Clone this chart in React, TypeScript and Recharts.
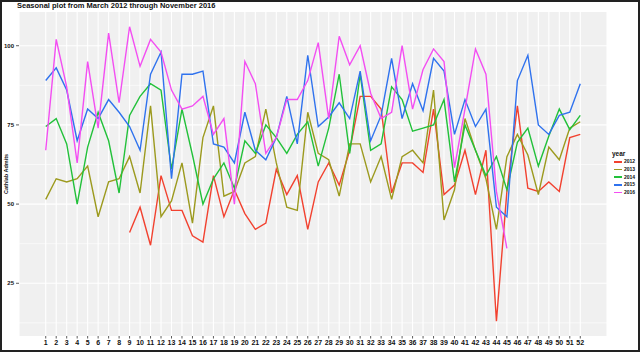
import React from 'react';
import { LineChart, Line, XAxis, YAxis, CartesianGrid, Legend } from 'recharts';

const weeks = [
  1, 2, 3, 4, 5, 6, 7, 8, 9, 10, 11, 12, 13, 14, 15, 16, 17, 18, 19, 20, 21, 22, 23, 24, 25, 26,
  27, 28, 29, 30, 31, 32, 33, 34, 35, 36, 37, 38, 39, 40, 41, 42, 43, 44, 45, 46, 47, 48, 49, 50, 51, 52,
];

const y2012 = [
  null, null, null, null, null, null, null, null, 41, 49, 37, 59, 48, 48, 40, 38, 59, 46, 54.5, 47, 42, 44, 61, 53, 59, 42,
  57, 63, 56, 67, 84, 84, 80, 53.5, 63, 63, 60, 80, 53, 56, 67, 53, 67, 13, 54, 81, 55, 54, 57, 54, 71, 72,
];
const y2013 = [
  51.5, 58, 57, 58, 62, 46, 57, 58, 65, 53.5, 81, 46, 51, 63, 44, 71, 81, 52.5, 54, 63, 65, 80, 63, 49, 48, 79,
  66, 64, 52.5, 69, 69, 57, 65, 51.5, 65, 67, 63, 86, 45, 54.5, 77, 67, 58, 42, 65, 72, 65.5, 53, 68, 64, 74, 76,
];
const y2014 = [
  74.5, 77, 69, 50, 68, 79, 70, 53.5, 78, 84, 88, 86, 61, 80, 65.5, 50, 58, 63, 55, 70, 66, 75, 71, 66, 72, 76,
  62, 74, 91, 66, 91, 67, 69, 87, 83, 73, 74, 75, 83, 57, 75, 67, 59, 65, 54.5, 69.5, 74, 62, 71.5, 80, 73.5, 78,
];
const y2015 = [
  89, 93, 86, 70, 80, 77, 83, 79, 74.5, 67, 91, 98, 58, 91, 91, 92, 69, 68, 63, 79, 67, 64, 71, 84, 69, 97,
  74.5, 77.5, 82, 77, 92, 70, 78, 96, 77, 88, 79.5, 96, 92, 72, 83, 74.5, 80, 49, 46, 89, 97, 75, 72, 78, 79, 88,
];
const y2016 = [
  67, 102, 87, 63, 95, 74, 104, 82, 106, 93.5, 102, 98, 86, 80, 81, 84, 72, 77, 50, 95, 88, 66, 71, 83, 83, 89,
  101, 77, 103, 94, 100, 85, 77, 79, 100, 80, 92.5, 99, 95, 61.5, 80, 99, 91, 54, 36,
];

const years = ['2012', '2013', '2014', '2015', '2016'];
const yearColors = ['#F2412F', '#9C9A1E', '#22C13A', '#2F72EE', '#F34EF2'];
const yTicks = [25, 50, 75, 100];
const yMinor = [12.5, 37.5, 62.5, 87.5];
const titleText = 'Seasonal plot from March 2012 through November 2016';
const yTitle = 'Cathlab Admits';

const series = [y2012, y2013, y2014, y2015, y2016];
const data = weeks.map((w, i) => {
  const row: Record<string, number | null> = { week: w };
  years.forEach((yr, k) => {
    const v = series[k][i];
    row[yr] = v === undefined ? null : v;
  });
  return row;
});

const FONT = '"Liberation Sans", Arial, sans-serif';

const renderLegend = (props: any) => {
  const payload = props.payload || [];
  return (
    <div style={{ fontFamily: FONT, color: '#111', textAlign: 'left' }}>
      <div style={{ fontSize: 6.5, fontWeight: 'bold', lineHeight: '9px', height: 9 }}>year</div>
      {payload.map((entry: any) => (
        <div key={entry.value} style={{ display: 'flex', alignItems: 'center', height: 7.7 }}>
          <span
            style={{
              display: 'inline-block',
              width: 8,
              height: 1.5,
              background: entry.color,
              marginLeft: 1.5,
              marginRight: 2.5,
            }}
          />
          <span style={{ fontSize: 5, fontWeight: 'bold', lineHeight: '7px' }}>{entry.value}</span>
        </div>
      ))}
    </div>
  );
};

export default function App() {
  return (
    <div style={{ position: 'absolute', left: 0, top: 0, width: 640, height: 352, background: '#fff' }}>
      <LineChart
        width={640}
        height={352}
        data={data}
        margin={{ top: 12, right: 33, bottom: 0, left: 0 }}
      >
        <CartesianGrid
          fill="#F0F0F0"
          stroke="#FFFFFF"
          strokeWidth={0.6}
          vertical={false}
          horizontalValues={yMinor}
        />
        <CartesianGrid stroke="#FFFFFF" strokeWidth={1.1} horizontalValues={yTicks} />
        <XAxis
          dataKey="week"
          type="number"
          domain={[-1.55, 54.55]}
          ticks={weeks}
          interval={0}
          height={16}
          axisLine={false}
          tickSize={2.5}
          tickMargin={2}
          tickLine={{ stroke: '#333', strokeWidth: 0.8 }}
          tick={{ fontSize: 7, fontWeight: 'bold', fill: '#111', fontFamily: FONT }}
        />
        <YAxis
          type="number"
          domain={[8.35, 110.65]}
          ticks={yTicks}
          width={19}
          axisLine={false}
          tickSize={3}
          tickMargin={2}
          tickLine={{ stroke: '#333', strokeWidth: 0.8 }}
          tick={{ fontSize: 6, fontWeight: 'bold', fill: '#111', fontFamily: FONT }}
        />
        {years.map((yr, k) => (
          <Line
            key={yr}
            type="linear"
            dataKey={yr}
            name={yr}
            stroke={yearColors[k]}
            strokeWidth={1.4}
            dot={false}
            activeDot={false}
            connectNulls={false}
            isAnimationActive={false}
          />
        ))}
        <Legend
          layout="vertical"
          align="center"
          verticalAlign="middle"
          content={renderLegend}
          wrapperStyle={{ position: 'absolute', left: 612, top: 149, width: 28, height: 50 }}
        />
      </LineChart>
      <div
        style={{
          position: 'absolute',
          left: 17,
          top: 2,
          fontFamily: FONT,
          fontSize: 7.5,
          lineHeight: '8px',
          fontWeight: 'bold',
          color: '#111',
          whiteSpace: 'nowrap',
        }}
      >
        {titleText}
      </div>
      <div
        style={{
          position: 'absolute',
          left: 5.5,
          top: 174,
          transform: 'translate(-50%, -50%) rotate(-90deg)',
          fontFamily: FONT,
          fontSize: 5.5,
          fontWeight: 'bold',
          color: '#111',
          whiteSpace: 'nowrap',
          lineHeight: '6px',
        }}
      >
        {yTitle}
      </div>
      <div
        style={{
          position: 'absolute',
          left: 0,
          top: 0,
          width: 640,
          height: 352,
          boxSizing: 'border-box',
          border: '2px solid #222',
          pointerEvents: 'none',
        }}
      />
    </div>
  );
}
